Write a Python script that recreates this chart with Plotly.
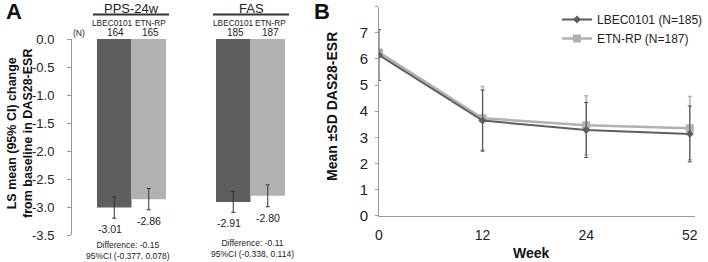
import plotly.graph_objects as go

# ---------------- data ----------------
groups = ["PPS-24w", "FAS"]
arms = ["LBEC0101", "ETN-RP"]
n_pps = [164, 165]
n_fas = [185, 187]
ls_lbec = [-3.01, -2.91]
ls_etn = [-2.86, -2.80]
ci_lbec = [0.19, 0.185]
ci_etn = [0.19, 0.195]
diff_text = ["Difference: -0.15<br>95%CI (-0.377, 0.078)",
             "Difference: -0.11<br>95%CI (-0.338, 0.114)"]

weeks = ["0", "12", "24", "52"]
mean_lbec = [6.15, 3.64, 3.28, 3.13]
sd_lbec = [0.97, 1.17, 1.05, 1.07]
mean_etn = [6.25, 3.73, 3.46, 3.35]
sd_etn = [0.0, 1.22, 1.13, 1.21]

DARK = "#5e5e5e"
LIGHT = "#b1b1b1"
FONT = "Liberation Sans, Arial, sans-serif"
W, H = 708, 262


def px(x, y):
    return x / W, 1 - y / H


fig = go.Figure()

# Panel A bars
fig.add_trace(go.Bar(x=groups, y=ls_lbec, name=arms[0], marker_color=DARK,
                     marker_line_width=0,
                     error_y=dict(type="data", array=ci_lbec, color="#333333",
                                  thickness=1, width=2),
                     xaxis="x", yaxis="y", showlegend=False))
fig.add_trace(go.Bar(x=groups, y=ls_etn, name=arms[1], marker_color=LIGHT,
                     marker_line_width=0,
                     error_y=dict(type="data", array=ci_etn, color="#333333",
                                  thickness=1, width=2),
                     xaxis="x", yaxis="y", showlegend=False))

# Panel B lines
fig.add_trace(go.Scatter(x=weeks, y=mean_etn, name="ETN-RP (N=187)",
                         mode="lines+markers",
                         line=dict(color=LIGHT, width=2.5),
                         marker=dict(symbol="square", size=8, color=LIGHT),
                         error_y=dict(type="data", array=sd_etn, color=LIGHT,
                                      thickness=1.5, width=2),
                         xaxis="x2", yaxis="y2"))
fig.add_trace(go.Scatter(x=weeks, y=mean_lbec, name="LBEC0101 (N=185)",
                         mode="lines+markers",
                         line=dict(color=DARK, width=2),
                         marker=dict(symbol="diamond", size=6, color=DARK),
                         error_y=dict(type="data", array=sd_lbec, color="#4a4a4a",
                                      thickness=1, width=2),
                         xaxis="x2", yaxis="y2"))

ann = []
# value labels
for i, g in enumerate(groups):
    ann.append(dict(x=g, y=ls_lbec[i] - ci_lbec[i], xref="x", yref="y",
                    text=f"{ls_lbec[i]:.2f}", showarrow=False,
                    xanchor="center", yanchor="top",
                    xshift=-22, yshift=-3, font=dict(size=10.5, color="#222")))
    ann.append(dict(x=g, y=ls_etn[i] - ci_etn[i], xref="x", yref="y",
                    text=f"{ls_etn[i]:.2f}", showarrow=False,
                    xanchor="center", yanchor="top",
                    xshift=17, yshift=-3, font=dict(size=10.5, color="#222")))

# header texts
hdr = [
    (131, 8, "PPS-24w", 13), (251, 8, "FAS", 13),
    (112, 23, "LBEC0101", 8.3), (150, 23, "ETN-RP", 8.3),
    (233, 23, "LBEC0101", 8.3), (270, 23, "ETN-RP", 8.3),
    (79, 33, "(N)", 8.5),
    (115, 33, str(n_pps[0]), 10), (150, 33, str(n_pps[1]), 10),
    (235, 33, str(n_fas[0]), 10), (270, 33, str(n_fas[1]), 10),
]
for x, y, t, s in hdr:
    xx, yy = px(x, y)
    ann.append(dict(x=xx, y=yy, xref="paper", yref="paper", text=t,
                    xanchor="center", yanchor="middle",
                    showarrow=False, font=dict(size=s, color="#222")))

for (x, y), t in zip([(128, 250), (252, 248)], diff_text):
    xx, yy = px(x, y)
    ann.append(dict(x=xx, y=yy, xref="paper", yref="paper", text=t,
                    xanchor="center", yanchor="middle",
                    showarrow=False, font=dict(size=8.5, color="#222")))

# panel letters
for x, y, t in [(14, 12, "A"), (322, 12, "B")]:
    xx, yy = px(x, y)
    ann.append(dict(x=xx, y=yy, xref="paper", yref="paper", text=f"<b>{t}</b>",
                    xanchor="center", yanchor="middle",
                    showarrow=False, font=dict(size=22, color="#111")))

# y titles
xx, yy = px(20, 133)
ann.append(dict(x=xx, y=yy, xref="paper", yref="paper", textangle=-90,
                xanchor="center", yanchor="middle",
                text="<b>LS mean (95% CI) change<br>from baseline in DAS28-ESR</b>",
                showarrow=False, font=dict(size=12.5, color="#111")))
xx, yy = px(332, 107)
ann.append(dict(x=xx, y=yy, xref="paper", yref="paper", textangle=-90,
                xanchor="center", yanchor="middle",
                text="<b>Mean ±SD DAS28-ESR</b>",
                showarrow=False, font=dict(size=14, color="#111")))
xx, yy = px(531, 253)
ann.append(dict(x=xx, y=yy, xref="paper", yref="paper",
                xanchor="center", yanchor="middle",
                text="<b>Week</b>", showarrow=False,
                font=dict(size=14, color="#111")))

shapes = []
for x0, x1 in [(93, 169), (213, 289)]:
    a0, b = px(x0, 14.5)
    a1, _ = px(x1, 14.5)
    shapes.append(dict(type="line", xref="paper", yref="paper",
                       x0=a0, x1=a1, y0=b, y1=b,
                       line=dict(color="#333", width=2)))

fig.update_layout(
    width=W, height=H,
    margin=dict(l=0, r=0, t=0, b=0, autoexpand=False),
    paper_bgcolor="white", plot_bgcolor="white",
    font=dict(family=FONT, color="#222"),
    barmode="group", bargap=0.42, bargroupgap=0,
    xaxis=dict(domain=[72 / W, 310 / W], range=[-0.5, 1.5], showticklabels=False,
               showline=False, showgrid=False, zeroline=False, ticks="",
               automargin=False),
    yaxis=dict(domain=[1 - 235 / H, 1 - 39 / H], range=[-3.5, 0],
               tickvals=[0, -0.5, -1, -1.5, -2, -2.5, -3, -3.5],
               ticktext=["0.0", "-0.5", "-1.0", "-1.5", "-2.0", "-2.5", "-3.0", "-3.5"],
               showline=True, linecolor="#999", linewidth=1,
               ticks="outside", ticklen=4, tickcolor="#999",
               ticklabelstandoff=10,
               showgrid=False, zeroline=False, automargin=False,
               tickfont=dict(size=13, color="#222")),
    xaxis2=dict(domain=[379 / W, 695 / W], type="category", range=[0, 3.05],
                showline=True, linecolor="#999", linewidth=1,
                showgrid=False, zeroline=False, ticks="", automargin=False,
                ticklabelstandoff=6,
                tickfont=dict(size=14, color="#222"), anchor="y2"),
    yaxis2=dict(domain=[1 - 215.7 / H, 1 - 6.7 / H], range=[0, 8], dtick=1,
                showline=True, linecolor="#999", linewidth=1,
                ticks="outside", ticklen=3, tickcolor="#999",
                ticklabelstandoff=4,
                showgrid=False, zeroline=False, anchor="x2", automargin=False,
                tickfont=dict(size=15, color="#222")),
    legend=dict(x=557 / W, y=1 - 5 / H, xanchor="left", yanchor="top",
                traceorder="reversed", font=dict(size=12, color="#222"),
                bgcolor="rgba(0,0,0,0)", itemwidth=30, tracegroupgap=0),
    annotations=ann, shapes=shapes,
)

fig.write_html("out.html", config={"displayModeBar": False},
               post_script="document.body.style.margin='0';document.body.style.padding='0';")
